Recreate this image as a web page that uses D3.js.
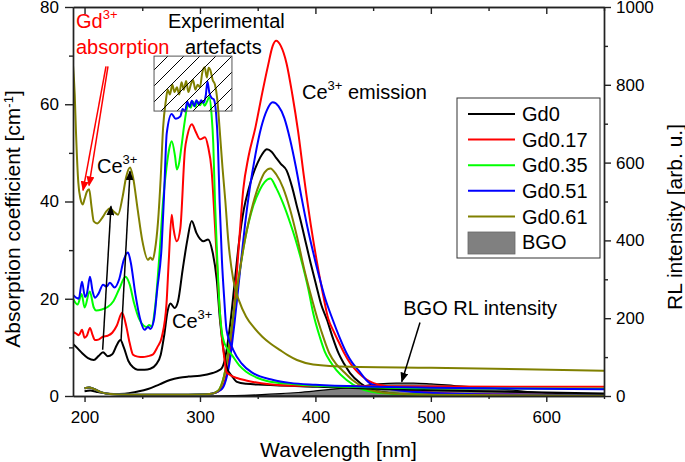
<!DOCTYPE html>
<html><head><meta charset="utf-8">
<script src="https://cdn.jsdelivr.net/npm/d3@7"></script>
<style>
body{margin:0;background:#fff}
svg{display:block}
text{font-family:"Liberation Sans",Arial,Helvetica,sans-serif}
</style>
</head><body>
<svg id="c" width="685" height="462"></svg>
<script>
// ---------- DATA ----------
const seriesNames = ["Gd0","Gd0.17","Gd0.35","Gd0.51","Gd0.61"];
const seriesColors = ["#000000","#ff0000","#00ff00","#0000ff","#808000"];
const xMajorTicks = [200,300,400,500,600];
const xMinorTicks = [250,350,450,550,650];
const yLeftTicks = [0,20,40,60,80];
const yLeftMinor = [10,30,50,70];
const yRightTicks = [0,200,400,600,800,1000];
const yRightMinor = [100,300,500,700,900];

// absorption coefficient [cm-1] vs wavelength [nm]
const gd0Abs = [[190,10.7],[194,9.8],[198,8.8],[203,7.8],[208,7.4],[212,8.2],[216,9.0],[220,8.2],[224,8.6],[228,10.5],[231,11.5],[234,10.0],[238,7.2],[242,5.9],[246,5.4],[252,5.4],[257,5.6],[262,6.5],[266,8.5],[269,12.5],[272,17.5],[274.5,19],[278,18.1],[281,19.5],[285,26],[289,32],[292.8,36],[297,33.5],[300,32.3],[303,31.8],[307,32.2],[311,29.5],[314.5,24],[317.3,15.7],[320,10.2],[323,6],[328,4],[332,2.9],[340,2.5],[355,2.3],[400,1.9],[450,1.5],[500,1.2],[600,0.7],[650,0.5]];
const gd017Abs = [[190,13.2],[193,12.8],[195,12.5],[197.8,13.6],[200,12],[202,12.4],[204.7,14],[207,12.5],[209,11.5],[212,11.6],[216,12.2],[220,12.4],[224,13],[228,14.5],[232.5,17.1],[236,14.5],[239,11],[242,8.5],[246,8.1],[250.6,8],[255,8.2],[259,8.5],[263,10],[267,12.2],[271,19],[273,28],[275.5,37.3],[277,34.5],[280,31.8],[283,34.5],[287,50.7],[289,53.5],[293,55.9],[296,54.5],[300,52.8],[304.4,53.2],[307,51.3],[310,46.6],[313,35],[316,22],[319,12],[321,8],[323,4.9],[327,4.2],[332,3.7],[340,3.2],[346,2.9],[360,2.4],[380,2.1],[450,2.0],[650,1.9]];
const gd035Abs = [[190,20],[194,18.8],[197.5,21],[200,18.2],[204.5,21.5],[208,18.2],[210,17.6],[215,17.8],[220,18.3],[225,19.5],[230,22],[235.5,24.5],[239,23],[243,19],[247,16],[251,14.5],[254,14.2],[256,14.6],[258,14.3],[261,18],[265.4,30.8],[268,40],[271,47],[273.5,51],[275.5,52.4],[278.4,49.3],[280,46.6],[282,48],[284,51.4],[286.5,56],[288.5,59],[290,60],[292,59.3],[294,60.5],[296,59.5],[298,60.5],[300,59.8],[302,60.6],[304,59.7],[306,60.5],[308,61.5],[310,58],[311.5,52],[313,40],[315,28],[317,18],[319,13],[321,11],[323,10],[328,8.3],[334,6.3],[340,5],[350,3.7],[358,3.1],[378,2.5],[400,2.1],[450,1.8],[500,1.6],[650,1.5]];
const gd051Abs = [[190,20.8],[193,20.2],[195,20],[197.8,23.5],[200.4,20.4],[202,21],[204.7,24.5],[207,21.5],[209,20.2],[212,21],[216,22.9],[219,22.5],[222,23.3],[226,22.3],[230,24],[234,28],[237.6,29.5],[240,27.5],[244,21],[248,16],[252,13.6],[255,14.2],[257,13.8],[260,15.5],[263,22],[266.8,30.8],[269,42],[271.2,54],[275.5,58],[279,57],[283,57.5],[285,59],[287,58.5],[289,60.5],[291,59.5],[293,60.7],[295,59.6],[297,60.8],[299,60],[301,60.8],[303,60.3],[305,61.8],[306.5,64.7],[308,62.5],[310,61.3],[312,61],[314,58],[315.5,52],[317,40],[319,28],[321,20],[323,13.6],[328.8,9.5],[336,6.7],[346,4.7],[363.5,3.3],[378,2.7],[400,2.3],[450,1.9],[500,1.7],[650,1.4]];
const gd061Abs = [[190,68],[191.5,62],[192.6,54.2],[194.6,43.9],[196.5,40.5],[198.4,39.4],[200,40.5],[202,42],[204,42.5],[206,39],[208,35.9],[211,35.5],[216,36.9],[219,38],[222,38.6],[225,38],[229,37.3],[233,41],[236,45],[239.4,47],[242,45],[246,38.4],[250,32],[255,28],[257,28.5],[259,28],[261,30],[263.6,35.7],[266,45],[268,55],[270.6,61],[272,63],[274,62],[276,64],[278,62.5],[280,63.5],[282,62],[284,64.5],[286,63],[288,64.8],[290,62.5],[292,64],[294,65],[296,63],[298,64],[300,63.5],[302,66.5],[304,67.6],[306,65.5],[307.5,67.5],[309,67],[311,65],[313,64],[315,61],[317,55],[319.5,47],[322,40],[324.5,32],[328.8,24],[334,19.5],[340,16.3],[347,14],[354,12.2],[361,10.8],[369,9.5],[376,8.4],[384,7.4],[398,6.5],[430,6.0],[500,5.8],[580,5.5],[650,5.2]];

// RL intensity [arb. u.] vs wavelength [nm]
const gd0Em = [[200,12],[205,14],[210,11],[215,8],[225,5],[235,6],[245,11],[255,18],[265,30],[274,41],[282,47],[290,50],[300,52],[311,59],[316,65],[319,72],[322,100],[326,180],[330,290],[334,400],[338,480],[342,530],[346,570],[350,600],[354,622],[358,634],[362,628],[366,612],[370,597],[375,580],[380,535],[384,487],[387,453],[392,390],[396,340],[401,281],[405,235],[410,196],[415,150],[420,110],[425,82],[430,59],[439,33],[450,15],[470,6],[500,3],[550,2],[650,1]];
const gd017Em = [[200,20],[204,22],[208,18],[214,10],[222,5],[240,3],[280,3],[300,4],[310,6],[316,12],[320,25],[325,90],[330,240],[334,400],[337.5,531],[342,615],[348,690],[354,780],[359,850],[363,900],[366,913],[370,900],[375,855],[380,775],[385,680],[390,565],[396,440],[401,350],[406,270],[411,200],[416,165],[420,140],[425,110],[430,85],[437,60],[445,41],[462,24],[480,14],[520,6],[600,3],[650,2]];
const gd035Em = [[200,20],[204,22],[208,18],[214,10],[222,5],[240,3],[280,3],[300,4],[310,6],[314,10],[317,18],[322,67],[326,144],[332,273],[339,402],[346,487],[352,531],[356,550],[361,559],[366,535],[372,495],[378,446],[383,400],[387,358],[394,273],[398,214],[404,150],[408,115],[413,88],[418,67],[427,41],[440,18],[460,7],[500,3],[650,1]];
const gd051Em = [[200,20],[204,22],[208,18],[214,10],[222,5],[240,3],[280,3],[300,4],[310,6],[316,12],[320,22],[325,75],[330,190],[335,330],[339,440],[343,531],[348,620],[353,690],[358,735],[363,755],[368,745],[373,715],[378,660],[383,590],[388,510],[393,435],[398,370],[403,310],[408,255],[415,196],[421,150],[427,110],[432,85],[437,67],[447,33],[462,20],[480,12],[520,6],[600,3],[650,2]];
const gd061Em = [[200,20],[204,22],[208,18],[214,10],[222,5],[240,3],[280,3],[300,4],[310,6],[314,10],[317,18],[322,67],[326,144],[332,273],[339,402],[346,495],[352,550],[356,575],[361,585],[366,570],[372,535],[378,480],[384,410],[390,330],[396,260],[402,196],[407,150],[412,110],[418,82],[423,67],[432,41],[445,18],[465,7],[500,3],[650,1]];
const bgoEm = [[300,0],[330,1],[350,3],[370,6],[385,9],[400,13],[420,19],[440,26],[455,31],[470,33],[485,33],[500,31],[520,27],[550,21],[575,14],[600,8],[625,5],[650,4]];

const absSeries = [gd0Abs, gd017Abs, gd035Abs, gd051Abs, gd061Abs];
const emSeries = [gd0Em, gd017Em, gd035Em, gd051Em, gd061Em];

// annotations in data units (nm, absorption coefficient)
const artefactBox = {x0:260.2, x1:327.7, y0:58.6, y1:69.9};
const blackArrows = [[[215.7,9.5],[222.9,39.0]],[[231.6,11.3],[239.4,46.2]],[[490.6,15.1],[474.8,2.95]]];
const redArrows = [[[218.6,67.8],[198.7,42.3]],[[220.3,67.8],[203.9,43.3]]];

// ---------- CHART ----------
const svg = d3.select('#c');
const x = d3.scaleLinear().domain([190,650]).range([73,604]);
const yL = d3.scaleLinear().domain([0,80]).range([396,7]);
const yR = d3.scaleLinear().domain([0,1000]).range([396,7]);

const defs = svg.append('defs');
defs.append('clipPath').attr('id','plot').append('rect')
  .attr('x',x(190)).attr('y',yL(80)).attr('width',x(650)-x(190)).attr('height',yL(0)-yL(80));
const pat = defs.append('pattern').attr('id','hatch').attr('patternUnits','userSpaceOnUse')
  .attr('width',16).attr('height',16);
pat.append('path').attr('d','M-4,4 L4,-4 M0,16 L16,0 M12,20 L20,12')
  .attr('stroke','#000').attr('stroke-width',1);
function marker(id,color){
  defs.append('marker').attr('id',id).attr('viewBox','0 0 10 8').attr('refX',9).attr('refY',4)
    .attr('markerWidth',10).attr('markerHeight',8).attr('markerUnits','userSpaceOnUse')
    .attr('orient','auto').append('path').attr('d','M0,0 L10,4 L0,8 z').attr('fill',color);
}
marker('ahB','#000'); marker('ahR','#ff0000');

const g = svg.append('g').attr('clip-path','url(#plot)');

// BGO area
g.append('path').datum(bgoEm)
  .attr('d', d3.area().x(d=>x(d[0])).y0(yR(0)).y1(d=>yR(d[1])).curve(d3.curveMonotoneX))
  .attr('fill','#808080').attr('stroke','#000').attr('stroke-width',1.2);

const lineR = d3.line().x(d=>x(d[0])).y(d=>yR(d[1])).curve(d3.curveMonotoneX);
const lineL = d3.line().x(d=>x(d[0])).y(d=>yL(d[1])).curve(d3.curveMonotoneX);
emSeries.forEach((s,i)=>{
  g.append('path').datum(s).attr('d',lineR).attr('fill','none')
    .attr('stroke',seriesColors[i]).attr('stroke-width',2);
});
absSeries.forEach((s,i)=>{
  g.append('path').datum(s).attr('d',lineL).attr('fill','none')
    .attr('stroke',seriesColors[i]).attr('stroke-width',2);
});

// hatched box
svg.append('rect').attr('x',x(artefactBox.x0)).attr('y',yL(artefactBox.y1))
  .attr('width',x(artefactBox.x1)-x(artefactBox.x0)).attr('height',yL(artefactBox.y0)-yL(artefactBox.y1))
  .attr('fill','url(#hatch)').attr('stroke','#555').attr('stroke-width',1);

// arrows
blackArrows.forEach(a=>{
  svg.append('line').attr('x1',x(a[0][0])).attr('y1',yL(a[0][1])).attr('x2',x(a[1][0])).attr('y2',yL(a[1][1]))
    .attr('stroke','#000').attr('stroke-width',1.5).attr('marker-end','url(#ahB)');
});
redArrows.forEach(a=>{
  svg.append('line').attr('x1',x(a[0][0])).attr('y1',yL(a[0][1])).attr('x2',x(a[1][0])).attr('y2',yL(a[1][1]))
    .attr('stroke','#ff0000').attr('stroke-width',1.5).attr('marker-end','url(#ahR)');
});

// annotation text
function label(nm,v,parts,color){
  const t = svg.append('text').attr('x',x(nm)).attr('y',yL(v)).attr('fill',color||'#000').attr('font-size',20);
  parts.forEach(p=>{
    const ts = t.append('tspan').text(p.t);
    if(p.sup){ ts.attr('font-size',13).attr('dy',-9); }
    if(p.down){ ts.attr('dy',9); }
  });
  return t;
}
label(192.6,75.7,[{t:'Gd'},{t:'3+',sup:true}],'#ff0000');
label(192.6,70.3,[{t:'absorption'}],'#ff0000');
label(272.3,75.7,[{t:'Experimental'}]);
label(287.0,70.3,[{t:'artefacts'}]);
label(388.4,61.0,[{t:'Ce'},{t:'3+',sup:true},{t:' emission',down:true}]);
label(210.8,45.9,[{t:'Ce'},{t:'3+',sup:true}]);
label(275.8,14.0,[{t:'Ce'},{t:'3+',sup:true}]);
label(476.1,16.7,[{t:'BGO RL intensity'}]);

// axes
const axStyle = sel=>{
  sel.selectAll('path,line').attr('stroke','#222').attr('stroke-width',1.4);
  sel.selectAll('text').attr('font-size',17).attr('fill','#000')
    .attr('font-family','"Liberation Sans",Arial,sans-serif');
};
svg.append('g').attr('transform',`translate(0,${yL(0)})`)
  .call(d3.axisBottom(x).tickValues(xMajorTicks).tickSize(6).tickSizeOuter(0).tickPadding(9)).call(axStyle);
svg.append('g').attr('transform',`translate(0,${yL(0)})`)
  .call(d3.axisBottom(x).tickValues(xMinorTicks).tickSize(3).tickSizeOuter(0).tickFormat('')).call(axStyle);
svg.append('g').attr('transform',`translate(0,${yL(80)})`)
  .call(d3.axisBottom(x).tickValues(xMajorTicks).tickSize(7).tickSizeOuter(0).tickFormat('')).call(axStyle);
svg.append('g').attr('transform',`translate(0,${yL(80)})`)
  .call(d3.axisBottom(x).tickValues(xMinorTicks).tickSize(4).tickSizeOuter(0).tickFormat('')).call(axStyle);
svg.append('g').attr('transform',`translate(${x(190)},0)`)
  .call(d3.axisLeft(yL).tickValues(yLeftTicks).tickSize(8).tickSizeOuter(0).tickPadding(6).tickFormat(d3.format('d'))).call(axStyle);
svg.append('g').attr('transform',`translate(${x(190)},0)`)
  .call(d3.axisLeft(yL).tickValues(yLeftMinor).tickSize(4).tickSizeOuter(0).tickFormat('')).call(axStyle);
svg.append('g').attr('transform',`translate(${x(650)},0)`)
  .call(d3.axisRight(yR).tickValues(yRightTicks).tickSize(7).tickSizeOuter(0).tickPadding(5).tickFormat(d3.format('d'))).call(axStyle);
svg.append('g').attr('transform',`translate(${x(650)},0)`)
  .call(d3.axisRight(yR).tickValues(yRightMinor).tickSize(4).tickSizeOuter(0).tickFormat('')).call(axStyle);

// axis titles
svg.append('text').attr('x',338.5).attr('y',457).attr('text-anchor','middle').attr('font-size',21)
  .text('Wavelength [nm]');
const lt = svg.append('text').attr('transform','translate(20,219) rotate(-90)').attr('text-anchor','middle').attr('font-size',21);
lt.append('tspan').text('Absorption coefficient [cm');
lt.append('tspan').text('-1').attr('font-size',13).attr('dy',-7);
lt.append('tspan').text(']').attr('dy',7);
svg.append('text').attr('transform','translate(682,217) rotate(-90)').attr('text-anchor','middle').attr('font-size',21)
  .text('RL intensity [arb. u.]');

// legend
const leg = svg.append('g');
leg.append('rect').attr('x',457).attr('y',98).attr('width',143).attr('height',160)
  .attr('fill','#fff').attr('stroke','#333').attr('stroke-width',1);
const legNames = seriesNames.concat(['BGO']);
legNames.forEach((n,i)=>{
  const cy = 114 + i*25.6;
  if(i<5){
    leg.append('line').attr('x1',468).attr('x2',515).attr('y1',cy).attr('y2',cy)
      .attr('stroke',seriesColors[i]).attr('stroke-width',2);
  } else {
    leg.append('rect').attr('x',468).attr('y',cy-10).attr('width',47).attr('height',22)
      .attr('fill','#808080').attr('stroke','#666').attr('stroke-width',0.8);
  }
  leg.append('text').attr('x',522).attr('y',cy).attr('dy','0.36em').attr('font-size',20).text(n);
});
</script>
</body></html>
